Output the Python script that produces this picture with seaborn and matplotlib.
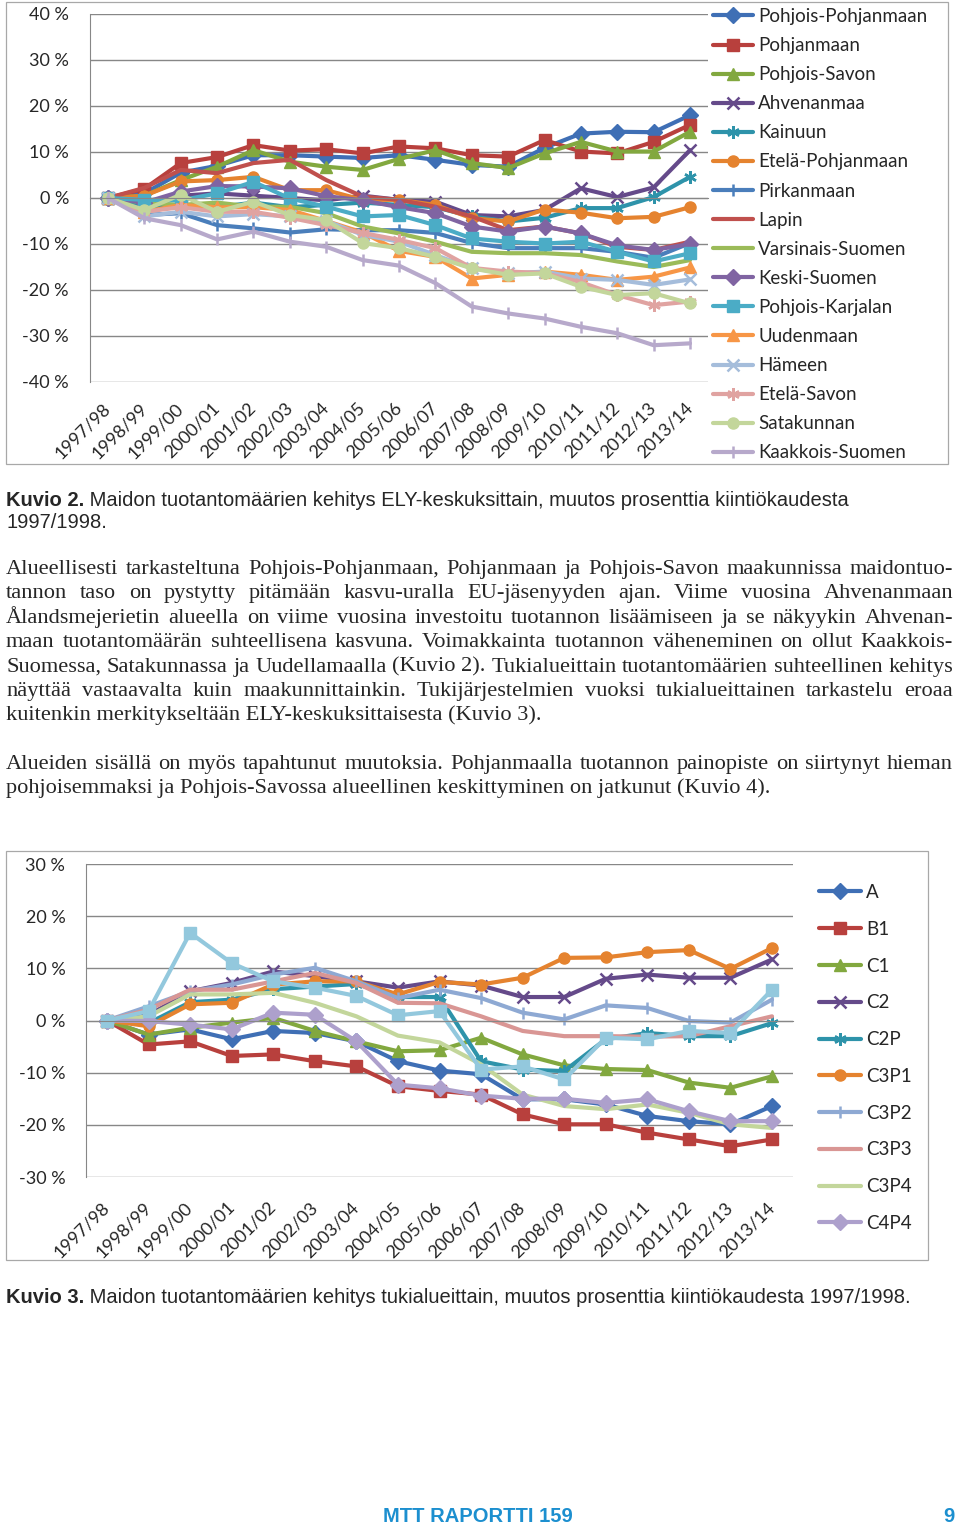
"""Maidon tuotantomäärien kehitys: two Excel-style line charts on a report page."""

import matplotlib
matplotlib.use("Agg")
import matplotlib.pyplot as plt
from matplotlib.patches import Rectangle
import numpy as np
import seaborn as sns

W, H = 960, 1526

SEASONS = ["1997/98", "1998/99", "1999/00", "2000/01", "2001/02", "2002/03",
           "2003/04", "2004/05", "2005/06", "2006/07", "2007/08", "2008/09",
           "2009/10", "2010/11", "2011/12", "2012/13", "2013/14"]

# Kuvio 2: ELY-keskukset, % vs 1997/98
pohjois_pohjanmaan = [0, 1, 5.5, 7, 9.3, 9.3, 9, 8.7, 9.3, 8.3, 7.2, 6.8, 10.9, 14, 14.4, 14.3, 18]
pohjanmaan = [0, 2, 7.6, 8.9, 11.5, 10.3, 10.6, 9.7, 11.2, 10.8, 9.3, 9, 12.6, 10.1, 9.7, 12.2, 15.9]
pohjois_savon = [0, 0.5, 3.9, 6.8, 10.4, 7.9, 6.8, 6.1, 8.5, 10.4, 7.6, 6.5, 9.7, 12.2, 10.1, 10.1, 14.4]
ahvenanmaa = [0, -1, 0.5, 1, 0.5, 0, -0.5, 0.5, -0.4, -0.8, -3.7, -4, -2.6, 2.1, 0.2, 2.3, 10.4]
kainuun = [0, -2, -1.5, -2, -1, -2, -1.5, -1, -1.5, -2, -4, -5.1, -4.3, -2.2, -2.2, 0.2, 4.6]
etela_pohjanmaan = [0, 0.5, 3.6, 3.9, 4.6, 1.7, 1.7, -0.4, -0.4, -1.5, -4.4, -5.1, -2.5, -3.2, -4.4, -4.1, -2]
pirkanmaan = [0, -3.7, -3.3, -5.9, -6.6, -7.5, -6.8, -7, -7, -7.6, -9.8, -10.9, -10.9, -10.9, -11.7, -13, -9.8]
lapin = [0, 2.2, 6.1, 5.4, 7.6, 8.3, 3.9, 0.3, -0.4, -1.9, -4, -7, -6.2, -7.7, -10.6, -11.3, -9.5]
varsinais_suomen = [0, -1, -1.5, -1, -1.9, -1.9, -3.3, -6.2, -7.7, -9.5, -11.7, -12, -12, -12.4, -13.8, -15, -13.5]
keski_suomen = [0, -1, 1.4, 2.6, 2.5, 2.1, 0.4, -0.5, -2, -3.3, -6.2, -7.3, -6.2, -7.7, -10.3, -11.3, -10]
pohjois_karjalan = [0, -0.4, -0.5, 1, 3.5, -0.1, -1.9, -4, -3.7, -5.9, -8.8, -9.5, -9.9, -9.5, -11.7, -13.8, -12]
uudenmaan = [0, -3, -1.5, -2, -2, -2.6, -5, -7.5, -11.5, -12.8, -17.5, -16.7, -16, -16.7, -17.8, -17.1, -15.1]
hameen = [0, -4, -3, -4, -3.5, -4, -5, -8, -9.5, -12.4, -15.3, -16.4, -16, -17.5, -17.8, -18.9, -17.7]
etela_savon = [0, -3, -2, -3, -3, -4.3, -5.9, -7.6, -9.1, -10.9, -15.2, -16, -16.3, -18.3, -21.1, -23.3, -22.5]
satakunnan = [0, -2.6, 0.7, -3, -0.8, -3.7, -4.8, -9.8, -10.9, -12.8, -15.3, -16.7, -16.4, -19.3, -21.1, -20.7, -22.9]
kaakkois_suomen = [0, -4.4, -5.9, -9, -7.3, -9.5, -10.6, -13.5, -14.7, -18.5, -23.6, -25.1, -26.2, -28, -29.4, -32, -31.6]

# Kuvio 3: tukialueet, % vs 1997/98
alue_a = [0, -2.7, -1.7, -3.6, -2, -2.4, -4, -7.8, -9.6, -10.3, -15.1, -15.1, -16.1, -18.3, -19.3, -19.9, -16.4]
alue_b1 = [0, -4.6, -4, -6.8, -6.5, -7.8, -8.8, -12.6, -13.5, -14.2, -18, -19.9, -19.9, -21.5, -22.8, -24.1, -22.8]
alue_c1 = [0, -2.7, -1.4, -0.4, 0.5, -2, -4, -5.9, -5.7, -3.3, -6.5, -8.6, -9.3, -9.5, -11.9, -12.9, -10.7]
alue_c2 = [0, 1, 5.6, 7.2, 9.4, 8.5, 7.5, 6.3, 7.5, 6.7, 4.5, 4.5, 8, 8.8, 8.2, 8.2, 11.7]
alue_c2p = [0, -0.5, 3.5, 4, 6, 6.5, 7, 4.5, 4.5, -7.8, -9.4, -9.7, -3.6, -2.4, -3, -3, -0.5]
alue_c3p1 = [0, -1.1, 3.1, 3.4, 6.9, 7.5, 7.5, 5, 7.4, 6.9, 8.2, 12, 12.1, 13.1, 13.5, 9.9, 13.9]
alue_c3p2 = [0, 2.7, 5.6, 6.9, 8.8, 10.1, 7.5, 4.3, 5.9, 4.3, 1.5, 0.2, 2.9, 2.4, -0.1, -0.4, 4]
alue_c3p3 = [0, 2.1, 5.9, 5.9, 7.5, 9.1, 7.2, 3.4, 3.3, 0.8, -2, -3, -3, -3.1, -3, -1.1, 0.8]
alue_c3p4 = [0, 0.8, 5, 5, 5.3, 3.4, 0.8, -2.9, -4.2, -8.4, -14.2, -16.4, -17, -16.1, -17.7, -19.9, -20.6]
alue_c4p4 = [0, -0.1, -0.8, -1.7, 1.5, 1.1, -4, -12.3, -13, -14.4, -15, -15, -15.8, -15.1, -17.4, -19.3, -19.3]
# 11th series, its legend entry is cut off by the chart frame
alue_extra = [0, 1.8, 16.8, 11, 7.5, 6.3, 4.7, 1, 1.8, -9.4, -8.8, -11.3, -3.3, -3.6, -2, -2.4, 5.9]

ELY_SERIES = [
    ("Pohjois-Pohjanmaan", pohjois_pohjanmaan, "#3F6FB5", "D"),
    ("Pohjanmaan", pohjanmaan, "#B8403D", "s"),
    ("Pohjois-Savon", pohjois_savon, "#82A83F", "^"),
    ("Ahvenanmaa", ahvenanmaa, "#654A8A", "x"),
    ("Kainuun", kainuun, "#2E93AA", "ast"),
    ("Etelä-Pohjanmaan", etela_pohjanmaan, "#E5832F", "o"),
    ("Pirkanmaan", pirkanmaan, "#4A7EBB", "|"),
    ("Lapin", lapin, "#C0504D", None),
    ("Varsinais-Suomen", varsinais_suomen, "#9BBB59", None),
    ("Keski-Suomen", keski_suomen, "#8064A2", "D"),
    ("Pohjois-Karjalan", pohjois_karjalan, "#4BACC6", "s"),
    ("Uudenmaan", uudenmaan, "#F79646", "^"),
    ("Hämeen", hameen, "#A5BDDB", "x"),
    ("Etelä-Savon", etela_savon, "#E0A3A1", "ast"),
    ("Satakunnan", satakunnan, "#C3D69B", "o"),
    ("Kaakkois-Suomen", kaakkois_suomen, "#B7A9CB", "|"),
]

TUKI_SERIES = [
    ("A", alue_a, "#3F6FB5", "D"),
    ("B1", alue_b1, "#B8403D", "s"),
    ("C1", alue_c1, "#82A83F", "^"),
    ("C2", alue_c2, "#654A8A", "x"),
    ("C2P", alue_c2p, "#2E93AA", "ast"),
    ("C3P1", alue_c3p1, "#E5832F", "o"),
    ("C3P2", alue_c3p2, "#8EA9D3", "|"),
    ("C3P3", alue_c3p3, "#D99694", None),
    ("C3P4", alue_c3p4, "#C3D69B", None),
    ("C4P4", alue_c4p4, "#ADA0CC", "D"),
    ("_extra", alue_extra, "#93C8DD", "s"),
]

GRID = "#878787"
FRAME = "#A8A8A8"
FOOTER = "#1C8FCF"

BODY_1 = [
    "Alueellisesti tarkasteltuna Pohjois-Pohjanmaan, Pohjanmaan ja Pohjois-Savon maakunnissa maidontuo-",
    "tannon taso on pystytty pitämään kasvu-uralla EU-jäsenyyden ajan. Viime vuosina Ahvenanmaan",
    "Ålandsmejerietin alueella on viime vuosina investoitu tuotannon lisäämiseen ja se näkyykin Ahvenan-",
    "maan tuotantomäärän suhteellisena kasvuna. Voimakkainta tuotannon väheneminen on ollut Kaakkois-",
    "Suomessa, Satakunnassa ja Uudellamaalla (Kuvio 2). Tukialueittain tuotantomäärien suhteellinen kehitys",
    "näyttää vastaavalta kuin maakunnittainkin. Tukijärjestelmien vuoksi tukialueittainen tarkastelu eroaa",
    "kuitenkin merkitykseltään ELY-keskuksittaisesta (Kuvio 3).",
]
BODY_2 = [
    "Alueiden sisällä on myös tapahtunut muutoksia. Pohjanmaalla tuotannon painopiste on siirtynyt hieman",
    "pohjoisemmaksi ja Pohjois-Savossa alueellinen keskittyminen on jatkunut (Kuvio 4).",
]


def fx(px):
    return px / W


def fy(py):
    return 1 - py / H


def marker_kws(marker, color, size):
    if marker is None:
        return {}
    if marker == "ast":
        return dict(marker=(6, 2, 0), markersize=size + 1, markeredgewidth=1.8,
                    markeredgecolor=color)
    if marker in ("x", "|"):
        return dict(marker=marker, markersize=size + 1, markeredgewidth=1.8,
                    markeredgecolor=color)
    return dict(marker=marker, markersize=size, markerfacecolor=color,
                markeredgecolor=color, markeredgewidth=1)


def draw_series(ax, series, size):
    x = np.arange(len(SEASONS))
    for name, values, color, marker in series:
        sns.lineplot(x=x, y=values, ax=ax, color=color, linewidth=3.0,
                     label=name, sort=False, **marker_kws(marker, color, size))


def style_axes(ax, lo, hi, label_pad):
    ax.set_xlim(-0.5, len(SEASONS) - 0.5)
    ax.set_ylim(lo, hi)
    ticks = np.arange(lo, hi + 1, 10)
    ax.set_yticks(ticks)
    ax.set_yticklabels([f"{t} %" for t in ticks])
    ax.yaxis.grid(True, color=GRID, linewidth=1.0)
    ax.xaxis.grid(False)
    ax.set_axisbelow(True)
    for side in ("top", "right"):
        ax.spines[side].set_visible(False)
    ax.spines["left"].set_color(GRID)
    ax.spines["bottom"].set_color(GRID)
    ax.spines["bottom"].set_position(("data", 0))
    ax.set_xticks(np.arange(-0.5, len(SEASONS)))
    ax.tick_params(axis="x", length=4, color=GRID, labelbottom=False)
    ax.tick_params(axis="y", length=4, color=GRID, pad=11, labelsize=13)
    ax.set_xlabel("")
    ax.set_ylabel("")
    sec = ax.secondary_xaxis("bottom")
    sec.set_xticks(range(len(SEASONS)), SEASONS, rotation=45, ha="right",
                   va="center", rotation_mode="anchor", fontsize=13)
    sec.tick_params(length=0, pad=label_pad)
    sec.spines["bottom"].set_visible(False)


def add_legend(fig, ax, x_px, y_px, spacing, handle_len):
    handles, labels = ax.get_legend_handles_labels()
    keep = [(h, l) for h, l in zip(handles, labels) if not l.startswith("_")]
    if ax.get_legend():
        ax.get_legend().remove()
    fig.legend([h for h, _ in keep], [l for _, l in keep], loc="upper left",
               bbox_to_anchor=(fx(x_px), fy(y_px)), bbox_transform=fig.transFigure,
               frameon=False, fontsize=13.5, borderpad=0, borderaxespad=0,
               labelspacing=spacing, handlelength=handle_len, handletextpad=0.27)


def justify(fig, renderer, line, x0, x1, baseline, **kw):
    words = line.split(" ")
    texts = [fig.text(0, fy(baseline), w, va="baseline", **kw) for w in words]
    widths = [t.get_window_extent(renderer).width for t in texts]
    gap = (x1 - x0 - sum(widths)) / (len(words) - 1)
    x = x0
    for t, w in zip(texts, widths):
        t.set_x(fx(x))
        x += w + gap


def paragraph(fig, renderer, lines, first_baseline, **kw):
    for i, line in enumerate(lines):
        base = first_baseline + i * 24.4
        if i < len(lines) - 1:
            justify(fig, renderer, line, 6, 953, base, **kw)
        else:
            fig.text(fx(6), fy(base), line, va="baseline", **kw)


def caption(fig, renderer, label, rest, x0, baseline, size):
    t = fig.text(fx(x0), fy(baseline), label, fontsize=size, fontweight="bold",
                 family="Liberation Sans", va="baseline")
    w = t.get_window_extent(renderer).width
    fig.text(fx(x0 + w), fy(baseline), rest, fontsize=size,
             family="Liberation Sans", va="baseline")


sns.set_style("white")
plt.rcParams["font.family"] = ["Lato", "DejaVu Sans"]

fig = plt.figure(figsize=(W / 100, H / 100), dpi=100)
renderer = fig.canvas.get_renderer()

# chart frames
fig.add_artist(Rectangle((fx(6), fy(464)), 942 / W, 462 / H, transform=fig.transFigure,
                         fill=False, edgecolor=FRAME, linewidth=0.9))
fig.add_artist(Rectangle((fx(6), fy(1260)), 922 / W, 409 / H, transform=fig.transFigure,
                         fill=False, edgecolor=FRAME, linewidth=0.9))

# Kuvio 2
ax1 = fig.add_axes([fx(89.8), fy(382), 618.4 / W, 368 / H])
draw_series(ax1, ELY_SERIES, 8)
style_axes(ax1, -40, 40, 17)
add_legend(fig, ax1, 713, 8, 0.645, 2.13)

# Kuvio 3
ax2 = fig.add_axes([fx(86.2), fy(1177), 706.6 / W, 313 / H])
draw_series(ax2, TUKI_SERIES, 8)
style_axes(ax2, -30, 30, 20)
add_legend(fig, ax2, 819, 884, 1.055, 2.24)

# captions
caption(fig, renderer, "Kuvio 2.", " Maidon tuotantomäärien kehitys ELY-keskuksittain, "
        "muutos prosenttia kiintiökaudesta", 6, 506, 14.5)
fig.text(fx(6), fy(528), "1997/1998.", fontsize=14.5, family="Liberation Sans", va="baseline")
caption(fig, renderer, "Kuvio 3.", " Maidon tuotantomäärien kehitys tukialueittain, "
        "muutos prosenttia kiintiökaudesta 1997/1998.", 6, 1303, 14.5)

# body text, justified like the printed page
body_kw = dict(fontsize=16.1, family="Liberation Serif")
paragraph(fig, renderer, BODY_1, 574, **body_kw)
paragraph(fig, renderer, BODY_2, 769, **body_kw)

# footer
footer_kw = dict(va="baseline", fontsize=14.5, fontweight="bold", color=FOOTER,
                 family="Liberation Sans")
fig.text(fx(478), fy(1522), "MTT RAPORTTI 159", ha="center", **footer_kw)
fig.text(fx(954), fy(1522), "9", ha="right", **footer_kw)

fig.savefig("out.png", dpi=100)
plt.close(fig)
